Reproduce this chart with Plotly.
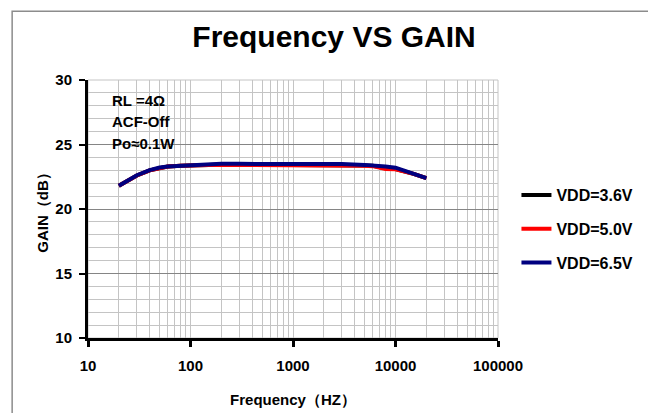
import plotly.graph_objects as go

freq = [20, 25, 30, 40, 50, 60, 80, 100, 150, 200, 300, 500, 1000, 2000, 3000, 5000, 6000, 8000, 10000, 12000, 15000, 20000]
gain_36 = [21.8, 22.25, 22.6, 23.0, 23.2, 23.3, 23.35, 23.4, 23.42, 23.45, 23.45, 23.45, 23.45, 23.45, 23.43, 23.38, 23.35, 23.15, 23.1, 22.95, 22.72, 22.4]
gain_50 = [21.8, 22.25, 22.6, 23.0, 23.2, 23.3, 23.35, 23.4, 23.42, 23.42, 23.42, 23.42, 23.42, 23.42, 23.4, 23.35, 23.32, 23.1, 23.08, 22.95, 22.72, 22.4]
gain_65 = [21.8, 22.3, 22.62, 23.02, 23.22, 23.3, 23.36, 23.42, 23.45, 23.5, 23.5, 23.5, 23.5, 23.5, 23.48, 23.42, 23.4, 23.3, 23.2, 23.0, 22.75, 22.4]
series = [("VDD=3.6V", gain_36, "#000000"), ("VDD=5.0V", gain_50, "#ff0000"), ("VDD=6.5V", gain_65, "#000080")]

x_ticks = [10, 100, 1000, 10000, 100000]
x_tick_labels = ["10", "100", "1000", "10000", "100000"]
y_ticks = [10, 15, 20, 25, 30]
notes = ["RL =4Ω", "ACF-Off", "Po≈0.1W"]

FONT = "Liberation Sans, Arial, sans-serif"
BOLD15 = dict(size=15, family=FONT, weight="bold", color="black")

fig = go.Figure()
for name, g, col in series:
    fig.add_trace(go.Scatter(x=freq, y=g, mode="lines", name=name, legendgroup=name,
                             line=dict(color=col, width=4)))

fig.update_layout(
    width=656, height=413,
    margin=dict(l=80, r=166, t=72, b=83),
    paper_bgcolor="white", plot_bgcolor="white",
    font=dict(family=FONT, size=15, color="black", weight="bold"),
    title=dict(text="Frequency VS GAIN", x=0.497, xanchor="center", y=0.93, yanchor="middle",
               font=dict(size=30, family=FONT, weight="bold", color="black")),
    showlegend=True,
    legend=dict(x=1.045, y=0.62, xanchor="left", yanchor="top", tracegroupgap=10,
                font=dict(size=16, family=FONT, weight="bold", color="black"),
                bgcolor="rgba(0,0,0,0)", itemwidth=30),
    xaxis=dict(type="log", range=[1, 5], tickvals=x_ticks, ticktext=x_tick_labels,
               showgrid=True, gridcolor="#c4c4c4", gridwidth=1,
               minor=dict(dtick="D1", showgrid=True, gridcolor="#c4c4c4", gridwidth=1, ticks=""),
               showline=True, linecolor="black", linewidth=3,
               ticks="outside", ticklen=6, tickwidth=3, tickcolor="black",
               ticklabelstandoff=6,
               tickfont=BOLD15,
               title=dict(text="Frequency（HZ）", standoff=22, font=BOLD15),
               zeroline=False),
    yaxis=dict(range=[10, 30], tickvals=y_ticks,
               showgrid=True, gridcolor="#858585", gridwidth=1,
               minor=dict(dtick=1, showgrid=True, gridcolor="#c4c4c4", gridwidth=1, ticks=""),
               showline=True, linecolor="black", linewidth=3,
               ticks="outside", ticklen=6, tickwidth=2, tickcolor="black",
               ticklabelstandoff=4,
               tickfont=BOLD15,
               title=dict(text="GAIN（dB）", standoff=4, font=BOLD15),
               zeroline=False),
)

# plot area border (light gray) and outer chart frame
fig.add_shape(type="rect", xref="paper", yref="paper", x0=0, y0=0, x1=1, y1=1,
              line=dict(color="#c4c4c4", width=1), layer="below")
fig.add_shape(type="rect", xref="paper", yref="paper", x0=-0.185, y0=-0.33, x1=1.4, y1=1.266,
              line=dict(color="#8c8c8c", width=1.5), layer="below")
# white box behind the condition notes
fig.add_shape(type="rect", xref="paper", yref="paper", x0=0.022, y0=0.694, x1=0.293, y1=0.988,
              line=dict(width=0), fillcolor="white", layer="between")

note_y = [0.919, 0.841, 0.752]
for t, yy in zip(notes, note_y):
    fig.add_annotation(text=t, xref="paper", yref="paper", x=0.054, y=yy, xanchor="left", yanchor="middle",
                       showarrow=False, font=BOLD15)

fig.write_html("out.html")
